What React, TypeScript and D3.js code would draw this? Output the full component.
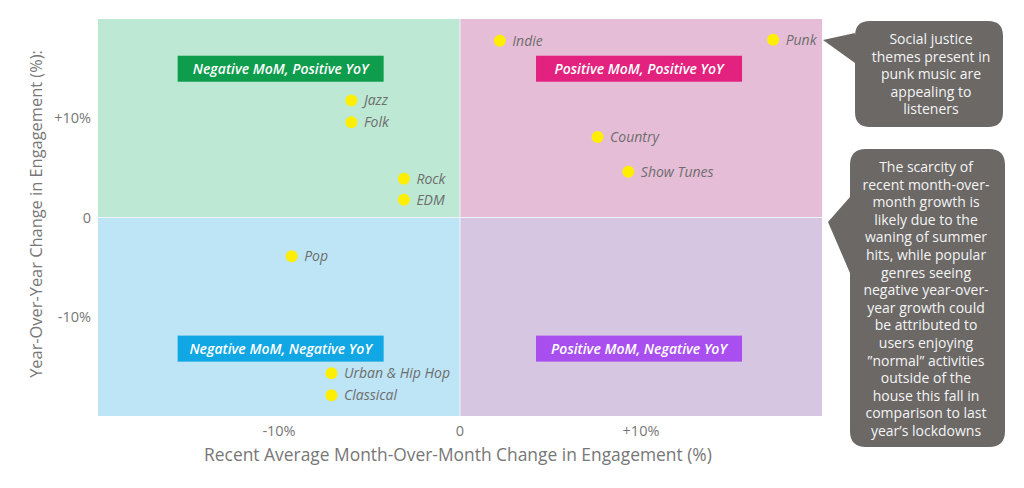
import React from 'react';
import * as d3 from 'd3';

// genre positions, % change
const genres = ['Indie', 'Punk', 'Jazz', 'Folk', 'Rock', 'EDM', 'Country', 'Show Tunes', 'Pop', 'Urban & Hip Hop', 'Classical'];
const momChange = [2.2, 17.3, -6.0, -6.0, -3.1, -3.1, 7.6, 9.3, -9.3, -7.1, -7.1];
const yoyChange = [17.8, 17.9, 11.8, 9.6, 3.9, 1.8, 8.1, 4.6, -3.9, -15.7, -17.9];

const xTicks = [-10, 0, 10];
const yTicks = [10, 0, -10];

const quadrants = [
  { label: 'Negative MoM, Positive YoY', xs: [-20, 0], ys: [0, 20], bg: '#bde8d3', tag: '#0e9c4d', at: [-15.6, 16.3] },
  { label: 'Positive MoM, Positive YoY', xs: [0, 20], ys: [0, 20], bg: '#e6bdd6', tag: '#e3217e', at: [4.2, 16.3] },
  { label: 'Negative MoM, Negative YoY', xs: [-20, 0], ys: [-20, 0], bg: '#bde5f6', tag: '#10a7e4', at: [-15.6, -11.9] },
  { label: 'Positive MoM, Negative YoY', xs: [0, 20], ys: [-20, 0], bg: '#d7c6e2', tag: '#a94ff0', at: [4.2, -11.9] },
];

const note1 = ['Social justice', 'themes present in', 'punk music are', 'appealing to', 'listeners'];
const note2 = [
  'The scarcity of', 'recent month-over-', 'month growth is', 'likely due to the', 'waning of summer',
  'hits, while popular', 'genres seeing', 'negative year-over-', 'year growth could', 'be attributed to',
  'users enjoying', '\u201dnormal\u201d activities', 'outside of the', 'house this fall in',
  'comparison to last', 'year\u2019s lockdowns',
];

const W = 1024;
const H = 488;
const left = 98, right = 822, top = 19, bottom = 416;
const font = '"Open Sans", "Noto Sans", sans-serif';

function bubble(x0: number, y0: number, x1: number, y1: number, r: number, tip: [number, number], b0: number, b1: number) {
  // rounded box with a pointer on its left side
  return `M${x0 + r},${y0} H${x1 - r} Q${x1},${y0} ${x1},${y0 + r} V${y1 - r} Q${x1},${y1} ${x1 - r},${y1} H${x0 + r} Q${x0},${y1} ${x0},${y1 - r} V${b1} L${tip[0]},${tip[1]} L${x0},${b0} V${y0 + r} Q${x0},${y0} ${x0 + r},${y0} Z`;
}

export default function App() {
  const x = d3.scaleLinear().domain([-20, 20]).range([left, right]);
  const y = d3.scaleLinear().domain([-20, 20]).range([bottom, top]);
  const fmt = (v: number) => (v > 0 ? `+${v}%` : v < 0 ? `${v}%` : '0');

  return (
    <svg width={W} height={H} style={{ position: 'absolute', left: 0, top: 0, fontFamily: font }}>
      <rect width={W} height={H} fill="#fff" />
      {quadrants.map((q) => (
        <rect key={q.label + 'bg'} x={x(q.xs[0])} y={y(q.ys[1])} width={x(q.xs[1]) - x(q.xs[0])} height={y(q.ys[0]) - y(q.ys[1])} fill={q.bg} />
      ))}
      <line x1={left} x2={right} y1={y(0)} y2={y(0)} stroke="#eef3f6" strokeWidth={1} />
      <line x1={x(0)} x2={x(0)} y1={top} y2={bottom} stroke="#eef3f6" strokeWidth={1} />

      {quadrants.map((q) => (
        <g key={q.label}>
          <rect x={x(q.at[0])} y={y(q.at[1])} width={206} height={26} fill={q.tag} />
          <text x={x(q.at[0]) + 103} y={y(q.at[1]) + 18} textAnchor="middle" fill="#fff" fontSize={14} fontWeight={600} fontStyle="italic">
            {q.label}
          </text>
        </g>
      ))}

      {genres.map((g, i) => (
        <g key={g}>
          <circle cx={x(momChange[i])} cy={y(yoyChange[i])} r={6} fill="#ffee00" />
          <text x={x(momChange[i]) + 12.5} y={y(yoyChange[i]) + 5} fontSize={14} fontStyle="italic" fill="#6e6e6e">
            {g}
          </text>
        </g>
      ))}

      {yTicks.map((t) => (
        <text key={'y' + t} x={91} y={y(t) + 5} textAnchor="end" fontSize={14.5} fill="#777">{fmt(t)}</text>
      ))}
      {xTicks.map((t) => (
        <text key={'x' + t} x={x(t)} y={436} textAnchor="middle" fontSize={14.5} fill="#777">{fmt(t)}</text>
      ))}

      <text x={458} y={461} textAnchor="middle" fontSize={17.4} fill="#777">
        Recent Average Month-Over-Month Change in Engagement (%)
      </text>
      <text transform="translate(42,214) rotate(-90)" textAnchor="middle" fontSize={16.4} fill="#777">
        Year-Over-Year Change in Engagement (%):
      </text>

      <path d={bubble(855, 21, 1003, 127, 15, [823, 40], 33, 63)} fill="#6b6866" />
      {note1.map((l, i) => (
        <text key={l} x={931} y={44 + i * 17.5} textAnchor="middle" fontSize={14} fill="#f4f4f4">{l}</text>
      ))}
      <path d={bubble(850, 149, 1005, 447, 16, [828, 222], 197, 273)} fill="#6b6866" />
      {note2.map((l, i) => (
        <text key={l} x={926} y={172 + i * 17.6} textAnchor="middle" fontSize={14} fill="#f4f4f4">{l}</text>
      ))}
    </svg>
  );
}
